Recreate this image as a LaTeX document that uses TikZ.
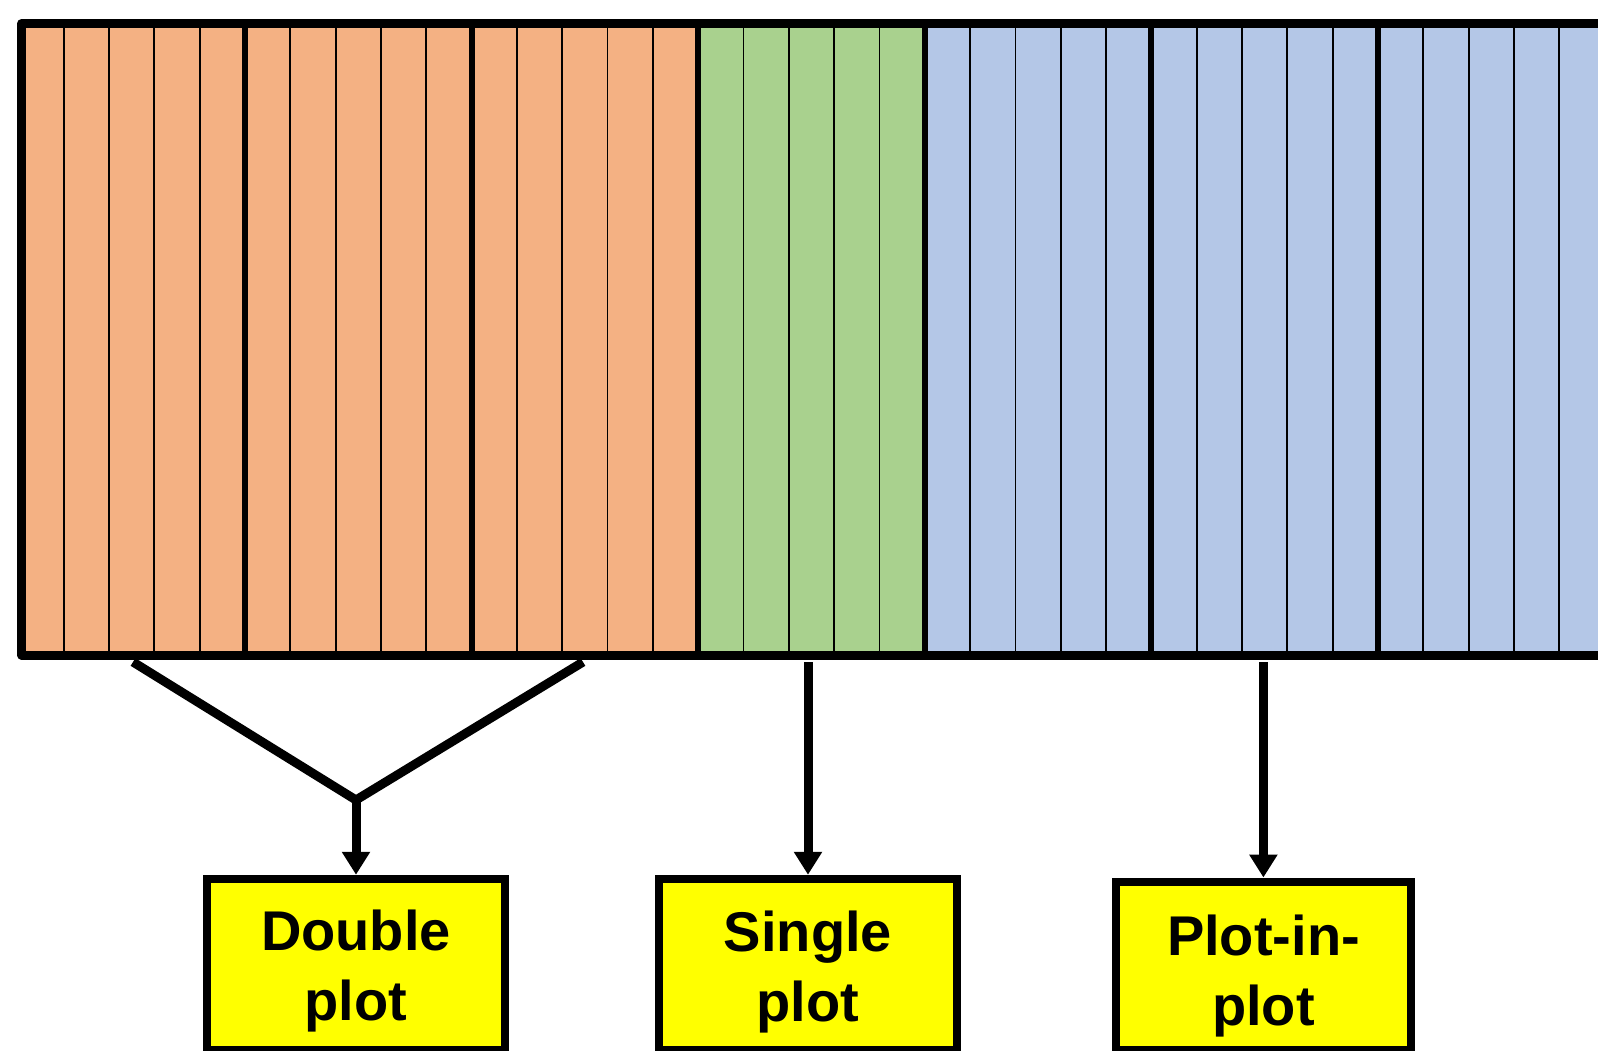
\documentclass[tikz,border=0pt]{standalone}
\usepackage{fontspec}
\setmainfont{Liberation Sans}
\usetikzlibrary{arrows.meta}
\definecolor{cellorange}{HTML}{F4B183}
\definecolor{cellgreen}{HTML}{A9D18E}
\definecolor{cellblue}{HTML}{B4C7E7}
\definecolor{boxyellow}{HTML}{FFFF00}
\begin{document}
\begin{tikzpicture}[x=1pt,y=-1pt,
  frame/.style={line width=9pt, line join=round},
  thinsep/.style={line width=1.8pt},
  thicksep/.style={line width=6pt},
  conn/.style={line width=9pt, line join=miter},
  arr/.style={conn, -{Triangle[width=27pt,length=23pt]}},
  plotbox/.style={draw, line width=8.5pt, fill=boxyellow, minimum width=298pt,
    minimum height=171pt, align=center, inner sep=0pt,
    font=\fontsize{56}{70}\selectfont\bfseries}
]
\useasboundingbox (0,0) rectangle (1598,1051);
% strip of cells
\fill[cellorange] (18,23.6) rectangle (698.2,655);
\fill[cellgreen] (698.2,23.6) rectangle (924.8,655);
\fill[cellblue] (924.8,23.6) rectangle (1600,655);
\foreach \k in {1,...,34} {
  \pgfmathsetmacro\xx{18.4+45.32*\k}
  \draw[thinsep] (\xx,23.6) -- (\xx,655);
}
\foreach \k in {5,10,...,30} {
  \pgfmathsetmacro\xx{18.4+45.32*\k}
  \draw[thicksep] (\xx,23.6) -- (\xx,655);
}
\draw[frame] (1605,23.6) -- (21.7,23.6) -- (21.7,655) -- (1605,655);

% boxes
\node[plotbox] (double) at (356,964.5) {\rule{0pt}{53pt}Double\\plot};
\node[plotbox] (single) at (808,964.5) {\rule{0pt}{55pt}Single\\plot};
\node[plotbox, minimum width=295pt, minimum height=168.3pt] (pip) at (1263.4,965.9) {\rule{0pt}{60pt}Plot-in-\\plot};

% connectors
\coordinate (dl) at (133,662);
\coordinate (dr) at (583,662);
\coordinate (dv) at (356,800);
\coordinate (s0) at (808,662);
\coordinate (p0) at (1263.4,662);
\draw[conn] (dl) -- (dv) -- (dr);
\draw[arr] (dv) -- (double.north);
\draw[arr] (s0) -- (single.north);
\draw[arr] (p0) -- (pip.north);
\end{tikzpicture}
\end{document}
